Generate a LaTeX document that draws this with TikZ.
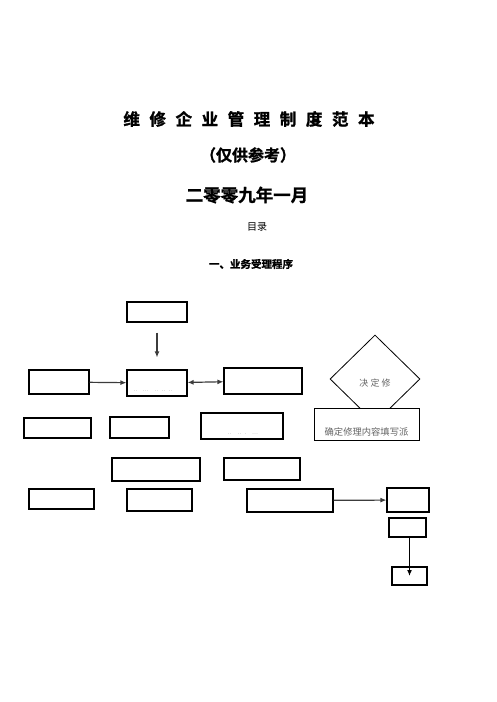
\documentclass[tikz,border=0pt]{standalone}
\usepackage{fontspec}
\usepackage{xcolor}
\usetikzlibrary{shapes.geometric, arrows.meta, positioning}
\newfontfamily\cjk{Noto Sans CJK SC}
\newfontfamily\cjktitle{Noto Sans CJK SC Bold}[LetterSpace=58, FakeBold=1.5]
\newfontfamily\cjkbold{Noto Sans CJK SC Bold}[FakeBold=1.2]
\definecolor{linegray}{RGB}{60, 60, 60}
\definecolor{textgray}{RGB}{100, 100, 100}

\begin{document}
\begin{tikzpicture}[x=1pt, y=-1pt,
    box/.style={draw, line width=1.1pt, fill=white, inner sep=0pt,
                minimum width=#1},
    flow/.style={-{Latex[length=6pt, width=5pt]}, draw=linegray, line width=1.2pt},
    dots/.style={font=\tiny, text=textgray}
]
    \useasboundingbox (0,0) rectangle (496,702);

    % headings
    \node[font=\cjktitle\fontsize{16.5}{18}\selectfont] (title) at (249,119) {维修企业管理制度范本};
    \node[font=\cjkbold\fontsize{16}{18}\selectfont] (note) at (248,155) {（仅供参考）};
    \node[font=\cjkbold\fontsize{17.5}{20}\selectfont] (date) at (247,195) {二零零九年一月};
    \node[font=\cjk\fontsize{10}{12}\selectfont] (toc) at (257,227) {目录};
    \node[font=\cjkbold\fontsize{10.5}{12}\selectfont] (section) at (251,264) {一、业务受理程序};

    % first rows
    \node[box=60pt, minimum height=20pt] (accept) at (157,312) {};
    \node[box=60pt, minimum height=24pt] (visit) at (59,382) {};
    \node[box=60pt, minimum height=26pt] (receive) at (157,383) {};
    \node[dots] at (153,391) {.. \ ... \ .. .. ..};
    \node[box=78pt, minimum height=26pt] (check) at (263,381) {};

    % decision and its order sheet
    \node[diamond, draw, line width=0.8pt, minimum width=90pt, minimum height=88pt,
          inner sep=0pt] (decide) at (375,379) {};
    \node[font=\cjk\fontsize{9}{10}\selectfont, text=textgray] (decidetext)
          at ([yshift=-4pt]decide.center) {决\ 定\ 修};
    \node[box=105pt, minimum height=32pt, line width=0.8pt] (order) at (366.5,424) {};
    \node[font=\cjk\fontsize{9.3}{10}\selectfont, text=textgray] (ordertext)
          at ([yshift=-8pt]order.center) {确定修理内容填写派};

    % middle rows
    \node[box=67pt, minimum height=20pt] (rowa) at (57.5,428) {};
    \node[box=59pt, minimum height=21pt] (rowb) at (139.5,427.5) {};
    \node[box=82pt, minimum height=26pt] (rowc) at (242,426) {};
    \node[dots] at (243,434) {.. \ .. . \ ...};
    \node[box=88pt, minimum height=23pt] (rowd) at (156,469.5) {};
    \node[box=76pt, minimum height=22pt] (rowe) at (262,469) {};

    % bottom rows
    \node[box=65pt, minimum height=20pt] (rowf) at (61.5,499) {};
    \node[box=65pt, minimum height=22pt] (rowg) at (159.5,500) {};
    \node[box=86pt, minimum height=23pt] (rowh) at (290,500.5) {};
    \node[box=42pt, minimum height=24pt] (rowi) at (408,500) {};
    \node[box=37pt, minimum height=19pt] (rowj) at (407.5,527.5) {};
    \node[box=35pt, minimum height=18pt] (rowk) at (409.5,576) {};

    \draw[flow, shorten <=10pt, shorten >=12pt] (accept) -- (receive);
    \draw[flow] (visit) -- (receive);
    \draw[flow, {Latex[length=6pt, width=5pt]}-{Latex[length=6pt, width=5pt]}] (receive) -- (check);
    \draw[flow] (rowh) -- (rowi);
    \draw[flow, draw=black] (rowj.south -| rowk.center) -- (rowk.center);
\end{tikzpicture}
\end{document}
